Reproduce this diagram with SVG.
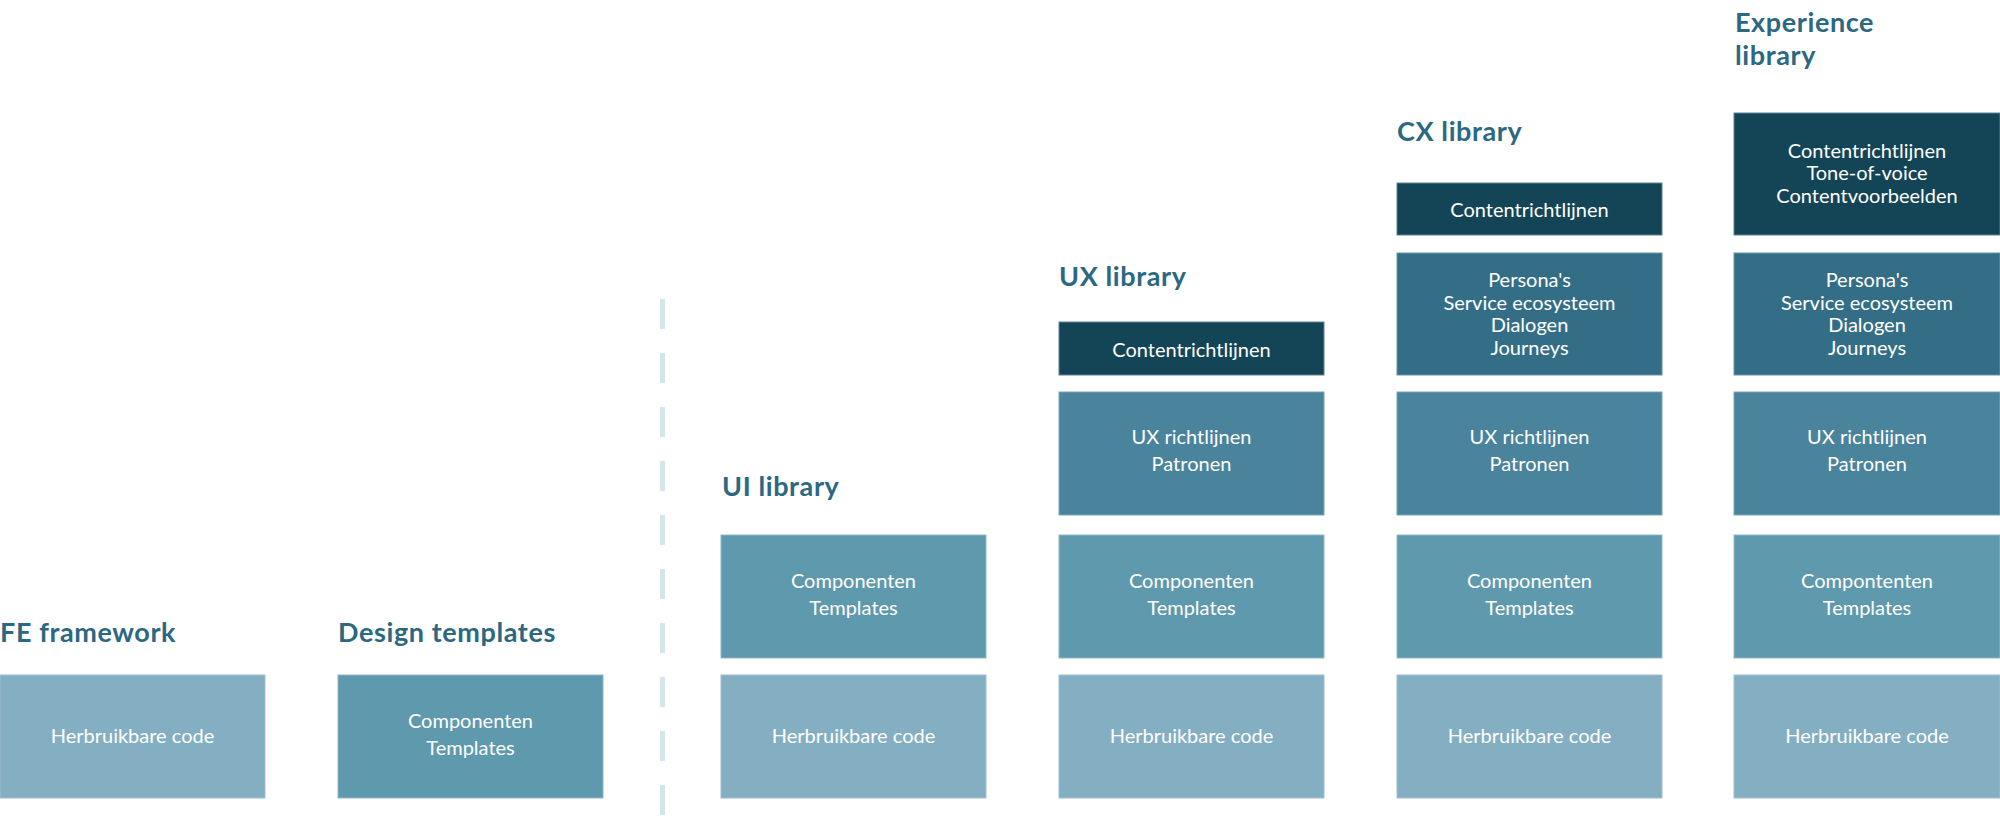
<svg xmlns="http://www.w3.org/2000/svg" width="2000" height="816" viewBox="0 0 2000 816">
<style>
.title{font-family:Lato,"Liberation Sans",sans-serif;font-weight:700;font-size:27px;letter-spacing:0.6px;fill:#2C6881}
.lbl{font-family:Lato,"Liberation Sans",sans-serif;font-weight:400;font-size:20px;fill:#ffffff;text-anchor:middle}
.herb{fill:#84AFC3;stroke:#9DC0D0;stroke-width:1}
.comp{fill:#5F99AD;stroke:#8DB7C6;stroke-width:1}
.ux{fill:#4A839C;stroke:#78A6B8;stroke-width:1}
.pers{fill:#346E86;stroke:#6893A5;stroke-width:1}
.cont{fill:#134556;stroke:#5C8394;stroke-width:1}
.divider{stroke:#D4E5EC;stroke-width:5;stroke-dasharray:30 24;fill:none}
</style>
<rect width="2000" height="816" fill="#ffffff"/>

<g id="connectors">
<line class="divider" x1="662.5" y1="299" x2="662.5" y2="816"/>
</g>

<g id="fe-framework">
<text class="title" x="0" y="642">FE framework</text>
<rect class="herb" x="0" y="675" width="265" height="123"/>
<text class="lbl" x="132.5" y="743">Herbruikbare code</text>
</g>

<g id="design-templates">
<text class="title" x="338" y="642">Design templates</text>
<rect class="comp" x="338" y="675" width="265" height="123"/>
<text class="lbl" x="470.5" y="728">Componenten</text>
<text class="lbl" x="470.5" y="755">Templates</text>
</g>

<g id="ui-library">
<text class="title" x="722" y="496">UI library</text>
<rect class="comp" x="721" y="535" width="265" height="123"/>
<text class="lbl" x="853.5" y="588">Componenten</text>
<text class="lbl" x="853.5" y="615">Templates</text>
<rect class="herb" x="721" y="675" width="265" height="123"/>
<text class="lbl" x="853.5" y="743">Herbruikbare code</text>
</g>

<g id="ux-library">
<text class="title" x="1059" y="286">UX library</text>
<rect class="cont" x="1059" y="322" width="265" height="53"/>
<text class="lbl" x="1191.5" y="357">Contentrichtlijnen</text>
<rect class="ux" x="1059" y="392" width="265" height="123"/>
<text class="lbl" x="1191.5" y="444">UX richtlijnen</text>
<text class="lbl" x="1191.5" y="471">Patronen</text>
<rect class="comp" x="1059" y="535" width="265" height="123"/>
<text class="lbl" x="1191.5" y="588">Componenten</text>
<text class="lbl" x="1191.5" y="615">Templates</text>
<rect class="herb" x="1059" y="675" width="265" height="123"/>
<text class="lbl" x="1191.5" y="743">Herbruikbare code</text>
</g>

<g id="cx-library">
<text class="title" x="1397" y="141">CX library</text>
<rect class="cont" x="1397" y="183" width="265" height="52"/>
<text class="lbl" x="1529.5" y="217">Contentrichtlijnen</text>
<rect class="pers" x="1397" y="253" width="265" height="122"/>
<text class="lbl" x="1529.5" y="287">Persona's</text>
<text class="lbl" x="1529.5" y="310">Service ecosysteem</text>
<text class="lbl" x="1529.5" y="332">Dialogen</text>
<text class="lbl" x="1529.5" y="355">Journeys</text>
<rect class="ux" x="1397" y="392" width="265" height="123"/>
<text class="lbl" x="1529.5" y="444">UX richtlijnen</text>
<text class="lbl" x="1529.5" y="471">Patronen</text>
<rect class="comp" x="1397" y="535" width="265" height="123"/>
<text class="lbl" x="1529.5" y="588">Componenten</text>
<text class="lbl" x="1529.5" y="615">Templates</text>
<rect class="herb" x="1397" y="675" width="265" height="123"/>
<text class="lbl" x="1529.5" y="743">Herbruikbare code</text>
</g>

<g id="experience-library">
<text class="title" x="1735" y="32">Experience</text>
<text class="title" x="1735" y="65">library</text>
<rect class="cont" x="1734" y="113" width="266" height="122"/>
<text class="lbl" x="1867" y="158">Contentrichtlijnen</text>
<text class="lbl" x="1867" y="180">Tone-of-voice</text>
<text class="lbl" x="1867" y="203">Contentvoorbeelden</text>
<rect class="pers" x="1734" y="253" width="266" height="122"/>
<text class="lbl" x="1867" y="287">Persona's</text>
<text class="lbl" x="1867" y="310">Service ecosysteem</text>
<text class="lbl" x="1867" y="332">Dialogen</text>
<text class="lbl" x="1867" y="355">Journeys</text>
<rect class="ux" x="1734" y="392" width="266" height="123"/>
<text class="lbl" x="1867" y="444">UX richtlijnen</text>
<text class="lbl" x="1867" y="471">Patronen</text>
<rect class="comp" x="1734" y="535" width="266" height="123"/>
<text class="lbl" x="1867" y="588">Compontenten</text>
<text class="lbl" x="1867" y="615">Templates</text>
<rect class="herb" x="1734" y="675" width="266" height="123"/>
<text class="lbl" x="1867" y="743">Herbruikbare code</text>
</g>
</svg>
